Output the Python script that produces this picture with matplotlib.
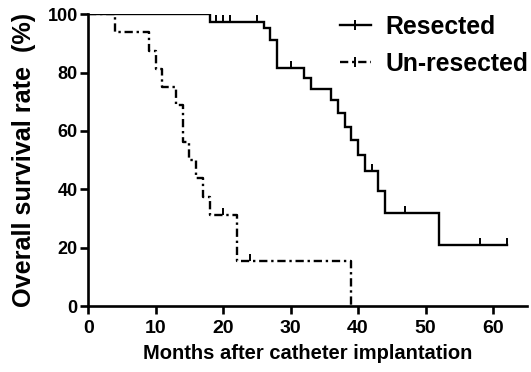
import numpy as np
import matplotlib
matplotlib.use('Agg')
import matplotlib.pyplot as plt
from matplotlib.lines import Line2D

# resected group: event times (months) and survival (%) after each step
res_t = [0, 18, 26, 27, 28, 32, 33, 36, 37, 38, 39, 40, 41, 43, 44, 52, 62]
res_s = [100, 97.4, 95.1, 91.3, 81.4, 78.0, 74.2, 70.5, 66.0, 61.4, 56.8,
         51.7, 46.3, 39.5, 32.0, 21.1, 21.1]
res_cens = [19, 20, 21, 25, 30, 42, 47, 58, 62]

# un-resected group
unr_t = [0, 4, 9, 10, 11, 13, 14, 15, 16, 17, 18, 22, 39]
unr_s = [100, 93.75, 87.5, 81.25, 75, 68.75, 56.25, 50, 43.75, 37.5, 31.25,
         15.625, 0]
unr_cens = [20, 24]

xticks = [0, 10, 20, 30, 40, 50, 60]
yticks = [0, 20, 40, 60, 80, 100]


def step_value(ts, ss, t):
    ''' survival level of a post-step curve at time t. '''
    i = np.searchsorted(ts, t, side='right') - 1
    return ss[i]


plt.rcParams['font.family'] = 'Liberation Sans'
plt.rcParams['font.weight'] = 'bold'

fig = plt.figure(figsize=(5.31, 3.72), dpi=100)
ax = fig.add_axes([0.166, 0.177, 0.826, 0.785])

lw = 1.7
dashdot = (0, (3.5, 1.6, 1.0, 1.6))

# curves
ax.step(res_t, res_s, where='post', color='black', lw=lw, solid_joinstyle='miter')
ax.step(unr_t, unr_s, where='post', color='black', lw=lw, linestyle=dashdot)

# censor ticks
ax.plot(res_cens, [step_value(res_t, res_s, c) for c in res_cens],
        linestyle='none', marker=2, markersize=5, mew=1.4, color='black')
ax.plot(unr_cens, [step_value(unr_t, unr_s, c) for c in unr_cens],
        linestyle='none', marker=2, markersize=5, mew=1.4, color='black')

# axes
ax.set_xlim(0, 65)
ax.set_ylim(0, 100)
ax.set_xticks(xticks)
ax.set_yticks(yticks)
ax.spines['top'].set_visible(False)
ax.spines['right'].set_visible(False)
for s in ['left', 'bottom']:
    ax.spines[s].set_linewidth(1.9)
    ax.spines[s].set_clip_on(False)
ax.tick_params(direction='out', length=6, width=1.9)
ax.tick_params(axis='x', labelsize=14, pad=4)
ax.tick_params(axis='y', labelsize=13, pad=1.5)
for lab in ax.get_xticklabels() + ax.get_yticklabels():
    lab.set_fontweight('bold')

ax.set_xlabel('Months after catheter implantation', fontsize=14.5,
              fontweight='bold', labelpad=5)
ax.set_ylabel('Overall survival rate  (%)', fontsize=18.2,
              fontweight='bold', labelpad=8)

# legend
handles = [
    Line2D([], [], color='black', lw=lw, marker='|', markersize=7, mew=1.4),
    Line2D([], [], color='black', lw=lw, linestyle=dashdot, marker='|',
           markersize=7, mew=1.4),
]
leg = fig.legend(handles, ['Resected', 'Un-resected'], loc='upper left',
                 bbox_to_anchor=(0.612, 1.0), frameon=False, fontsize=17.8,
                 handlelength=1.25, handletextpad=0.6, labelspacing=0.52,
                 numpoints=1, borderaxespad=0.2)
for t in leg.get_texts():
    t.set_fontweight('bold')

fig.savefig('out.png', dpi=100)
